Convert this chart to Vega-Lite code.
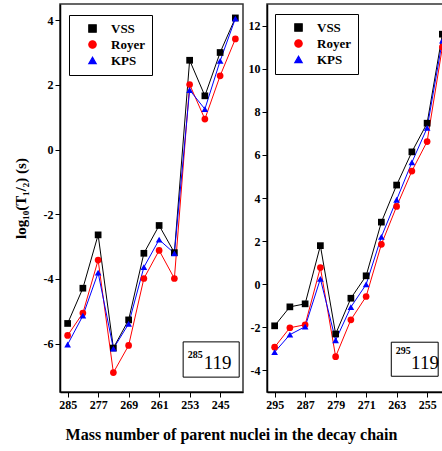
{
  "$schema": "https://vega.github.io/schema/vega-lite/v6.json",
  "padding": {"left": 12, "top": 3, "right": 0, "bottom": 5},
  "background": "white",
  "spacing": 3,
  "title": {"text": "Mass number of parent nuclei in the decay chain", "orient": "bottom", "anchor": "middle", "font": "Liberation Serif", "fontSize": 16, "fontWeight": "bold", "color": "black", "offset": 16},
  "config": {
    "view": {"stroke": "#333", "strokeWidth": 1.5},
    "axis": {"labelFont": "Liberation Serif", "labelFontWeight": "bold", "labelFontSize": 12, "labelColor": "black", "labelOverlap": false, "tickCount": 20, "domainColor": "black", "domainWidth": 1.5, "tickColor": "black", "tickSize": 5, "grid": false, "titleFont": "Liberation Serif", "titleFontWeight": "bold", "titleColor": "black"},
    "legend": {"orient": "none", "title": null, "strokeColor": "black", "fillColor": "white", "padding": 7, "symbolSize": 55, "symbolOffset": 10, "labelOffset": 12, "rowPadding": 2, "labelFont": "Liberation Serif", "labelFontWeight": "bold", "labelFontSize": 13, "labelColor": "black", "symbolStrokeWidth": 1.2, "symbolOpacity": 1}
  },
  "datasets": {
    "chains": [
      {"chain": "285", "model": "VSS", "A": 285, "logT": -5.38},
      {"chain": "285", "model": "VSS", "A": 281, "logT": -4.29},
      {"chain": "285", "model": "VSS", "A": 277, "logT": -2.64},
      {"chain": "285", "model": "VSS", "A": 273, "logT": -6.14},
      {"chain": "285", "model": "VSS", "A": 269, "logT": -5.27},
      {"chain": "285", "model": "VSS", "A": 265, "logT": -3.21},
      {"chain": "285", "model": "VSS", "A": 261, "logT": -2.35},
      {"chain": "285", "model": "VSS", "A": 257, "logT": -3.19},
      {"chain": "285", "model": "VSS", "A": 253, "logT": 2.76},
      {"chain": "285", "model": "VSS", "A": 249, "logT": 1.66},
      {"chain": "285", "model": "VSS", "A": 245, "logT": 3.0},
      {"chain": "285", "model": "VSS", "A": 241, "logT": 4.07},
      {"chain": "285", "model": "Royer", "A": 285, "logT": -5.75},
      {"chain": "285", "model": "Royer", "A": 281, "logT": -5.06},
      {"chain": "285", "model": "Royer", "A": 277, "logT": -3.42},
      {"chain": "285", "model": "Royer", "A": 273, "logT": -6.9},
      {"chain": "285", "model": "Royer", "A": 269, "logT": -6.06},
      {"chain": "285", "model": "Royer", "A": 265, "logT": -3.99},
      {"chain": "285", "model": "Royer", "A": 261, "logT": -3.12},
      {"chain": "285", "model": "Royer", "A": 257, "logT": -3.99},
      {"chain": "285", "model": "Royer", "A": 253, "logT": 2.01},
      {"chain": "285", "model": "Royer", "A": 249, "logT": 0.94},
      {"chain": "285", "model": "Royer", "A": 245, "logT": 2.28},
      {"chain": "285", "model": "Royer", "A": 241, "logT": 3.42},
      {"chain": "285", "model": "KPS", "A": 285, "logT": -6.03},
      {"chain": "285", "model": "KPS", "A": 281, "logT": -5.14},
      {"chain": "285", "model": "KPS", "A": 277, "logT": -3.81},
      {"chain": "285", "model": "KPS", "A": 273, "logT": -6.16},
      {"chain": "285", "model": "KPS", "A": 269, "logT": -5.39},
      {"chain": "285", "model": "KPS", "A": 265, "logT": -3.64},
      {"chain": "285", "model": "KPS", "A": 261, "logT": -2.79},
      {"chain": "285", "model": "KPS", "A": 257, "logT": -3.21},
      {"chain": "285", "model": "KPS", "A": 253, "logT": 1.84},
      {"chain": "285", "model": "KPS", "A": 249, "logT": 1.25},
      {"chain": "285", "model": "KPS", "A": 245, "logT": 2.74},
      {"chain": "285", "model": "KPS", "A": 241, "logT": 4.05},
      {"chain": "295", "model": "VSS", "A": 295, "logT": -1.93},
      {"chain": "295", "model": "VSS", "A": 291, "logT": -1.05},
      {"chain": "295", "model": "VSS", "A": 287, "logT": -0.91},
      {"chain": "295", "model": "VSS", "A": 283, "logT": 1.79},
      {"chain": "295", "model": "VSS", "A": 279, "logT": -2.31},
      {"chain": "295", "model": "VSS", "A": 275, "logT": -0.65},
      {"chain": "295", "model": "VSS", "A": 271, "logT": 0.39},
      {"chain": "295", "model": "VSS", "A": 267, "logT": 2.88},
      {"chain": "295", "model": "VSS", "A": 263, "logT": 4.6},
      {"chain": "295", "model": "VSS", "A": 259, "logT": 6.14},
      {"chain": "295", "model": "VSS", "A": 255, "logT": 7.47},
      {"chain": "295", "model": "VSS", "A": 251, "logT": 11.6},
      {"chain": "295", "model": "Royer", "A": 295, "logT": -2.92},
      {"chain": "295", "model": "Royer", "A": 291, "logT": -2.02},
      {"chain": "295", "model": "Royer", "A": 287, "logT": -1.88},
      {"chain": "295", "model": "Royer", "A": 283, "logT": 0.77},
      {"chain": "295", "model": "Royer", "A": 279, "logT": -3.36},
      {"chain": "295", "model": "Royer", "A": 275, "logT": -1.65},
      {"chain": "295", "model": "Royer", "A": 271, "logT": -0.57},
      {"chain": "295", "model": "Royer", "A": 267, "logT": 1.85},
      {"chain": "295", "model": "Royer", "A": 263, "logT": 3.61},
      {"chain": "295", "model": "Royer", "A": 259, "logT": 5.25},
      {"chain": "295", "model": "Royer", "A": 255, "logT": 6.62},
      {"chain": "295", "model": "Royer", "A": 251, "logT": 11.0},
      {"chain": "295", "model": "KPS", "A": 295, "logT": -3.15},
      {"chain": "295", "model": "KPS", "A": 291, "logT": -2.34},
      {"chain": "295", "model": "KPS", "A": 287, "logT": -1.97},
      {"chain": "295", "model": "KPS", "A": 283, "logT": 0.25},
      {"chain": "295", "model": "KPS", "A": 279, "logT": -2.6},
      {"chain": "295", "model": "KPS", "A": 275, "logT": -1.06},
      {"chain": "295", "model": "KPS", "A": 271, "logT": -0.01},
      {"chain": "295", "model": "KPS", "A": 267, "logT": 2.2},
      {"chain": "295", "model": "KPS", "A": 263, "logT": 3.92},
      {"chain": "295", "model": "KPS", "A": 259, "logT": 5.65},
      {"chain": "295", "model": "KPS", "A": 255, "logT": 7.25},
      {"chain": "295", "model": "KPS", "A": 251, "logT": 11.3}
    ],
    "labels": [
      {"chain": "285", "mass": "285", "Z": "119"},
      {"chain": "295", "mass": "295", "Z": "119"}
    ]
  },
  "resolve": {"scale": {"color": "independent", "shape": "independent", "x": "independent", "y": "independent"}, "legend": {"color": "independent", "shape": "independent"}},
  "hconcat": [
    {
      "width": 183,
      "height": 388,
      "layer": [
        {
          "data": {"name": "chains"},
          "transform": [{"filter": "datum.chain === '285'"}],
          "mark": {"type": "line", "strokeWidth": 1},
          "encoding": {
            "x": {"field": "A", "type": "quantitative", "scale": {"domain": [239, 287], "reverse": true, "nice": false, "zero": false}, "axis": {"values": [285, 277, 269, 261, 253, 245], "title": null, "tickCount": 20}},
            "y": {"field": "logT", "type": "quantitative", "scale": {"domain": [-7.5, 4.5], "nice": false, "zero": false}, "axis": {"values": [-6, -4, -2, 0, 2, 4], "labelExpr": "'' + datum.value", "title": "log₁₀(T₁/₂) (s)", "titleFontSize": 15, "titlePadding": 15, "tickCount": 20}},
            "color": {"field": "model", "type": "nominal", "scale": {"domain": ["VSS", "Royer", "KPS"], "range": ["black", "#ff0000", "#0000ff"]}, "legend": {"legendX": 9, "legendY": 11}},
            "order": {"field": "A", "type": "quantitative", "sort": "descending"}
          }
        },
        {
          "data": {"name": "chains"},
          "transform": [{"filter": "datum.chain === '285'"}],
          "mark": {"type": "point", "filled": true, "size": 45, "opacity": 1},
          "encoding": {
            "x": {"field": "A", "type": "quantitative"},
            "y": {"field": "logT", "type": "quantitative"},
            "color": {"field": "model", "type": "nominal", "scale": {"domain": ["VSS", "Royer", "KPS"], "range": ["black", "#ff0000", "#0000ff"]}, "legend": {"legendX": 9, "legendY": 11}},
            "shape": {"field": "model", "type": "nominal", "scale": {"domain": ["VSS", "Royer", "KPS"], "range": ["square", "circle", "triangle-up"]}, "legend": {"legendX": 9, "legendY": 11}}
          }
        },
        {
          "data": {"name": "labels"},
          "transform": [{"filter": "datum.chain === '285'"}],
          "mark": {"type": "rect", "fill": "white", "stroke": "black", "strokeWidth": 1},
          "encoding": {"x": {"datum": 254.7}, "x2": {"datum": 240.0}, "y": {"datum": -5.95}, "y2": {"datum": -7.04}}
        },
        {
          "data": {"name": "labels"},
          "transform": [{"filter": "datum.chain === '285'"}],
          "mark": {"type": "text", "align": "left", "baseline": "alphabetic", "font": "Liberation Serif", "fontSize": 10, "fontWeight": "bold", "color": "black"},
          "encoding": {"x": {"datum": 253.5}, "y": {"datum": -6.45}, "text": {"field": "mass"}}
        },
        {
          "data": {"name": "labels"},
          "transform": [{"filter": "datum.chain === '285'"}],
          "mark": {"type": "text", "align": "left", "baseline": "alphabetic", "font": "Liberation Serif", "fontSize": 19, "color": "black"},
          "encoding": {"x": {"datum": 249.3}, "y": {"datum": -6.79}, "text": {"field": "Z"}}
        }
      ]
    },
    {
      "width": 183,
      "height": 388,
      "layer": [
        {
          "data": {"name": "chains"},
          "transform": [{"filter": "datum.chain === '295'"}],
          "mark": {"type": "line", "strokeWidth": 1},
          "encoding": {
            "x": {"field": "A", "type": "quantitative", "scale": {"domain": [249, 297], "reverse": true, "nice": false, "zero": false}, "axis": {"values": [295, 287, 279, 271, 263, 255], "title": null, "tickCount": 20}},
            "y": {"field": "logT", "type": "quantitative", "scale": {"domain": [-5, 13], "nice": false, "zero": false}, "axis": {"values": [-4, -2, 0, 2, 4, 6, 8, 10, 12], "labelExpr": "'' + datum.value", "title": null, "tickCount": 20}},
            "color": {"field": "model", "type": "nominal", "scale": {"domain": ["VSS", "Royer", "KPS"], "range": ["black", "#ff0000", "#0000ff"]}, "legend": {"legendX": 8, "legendY": 10}},
            "order": {"field": "A", "type": "quantitative", "sort": "descending"}
          }
        },
        {
          "data": {"name": "chains"},
          "transform": [{"filter": "datum.chain === '295'"}],
          "mark": {"type": "point", "filled": true, "size": 45, "opacity": 1},
          "encoding": {
            "x": {"field": "A", "type": "quantitative"},
            "y": {"field": "logT", "type": "quantitative"},
            "color": {"field": "model", "type": "nominal", "scale": {"domain": ["VSS", "Royer", "KPS"], "range": ["black", "#ff0000", "#0000ff"]}, "legend": {"legendX": 8, "legendY": 10}},
            "shape": {"field": "model", "type": "nominal", "scale": {"domain": ["VSS", "Royer", "KPS"], "range": ["square", "circle", "triangle-up"]}, "legend": {"legendX": 8, "legendY": 10}}
          }
        },
        {
          "data": {"name": "labels"},
          "transform": [{"filter": "datum.chain === '295'"}],
          "mark": {"type": "rect", "fill": "white", "stroke": "black", "strokeWidth": 1},
          "encoding": {"x": {"datum": 264.4}, "x2": {"datum": 252.1}, "y": {"datum": -2.69}, "y2": {"datum": -4.27}}
        },
        {
          "data": {"name": "labels"},
          "transform": [{"filter": "datum.chain === '295'"}],
          "mark": {"type": "text", "align": "left", "baseline": "alphabetic", "font": "Liberation Serif", "fontSize": 10, "fontWeight": "bold", "color": "black"},
          "encoding": {"x": {"datum": 263.2}, "y": {"datum": -3.25}, "text": {"field": "mass"}}
        },
        {
          "data": {"name": "labels"},
          "transform": [{"filter": "datum.chain === '295'"}],
          "mark": {"type": "text", "align": "left", "baseline": "alphabetic", "font": "Liberation Serif", "fontSize": 19, "color": "black"},
          "encoding": {"x": {"datum": 259.2}, "y": {"datum": -3.92}, "text": {"field": "Z"}}
        }
      ]
    }
  ]
}
